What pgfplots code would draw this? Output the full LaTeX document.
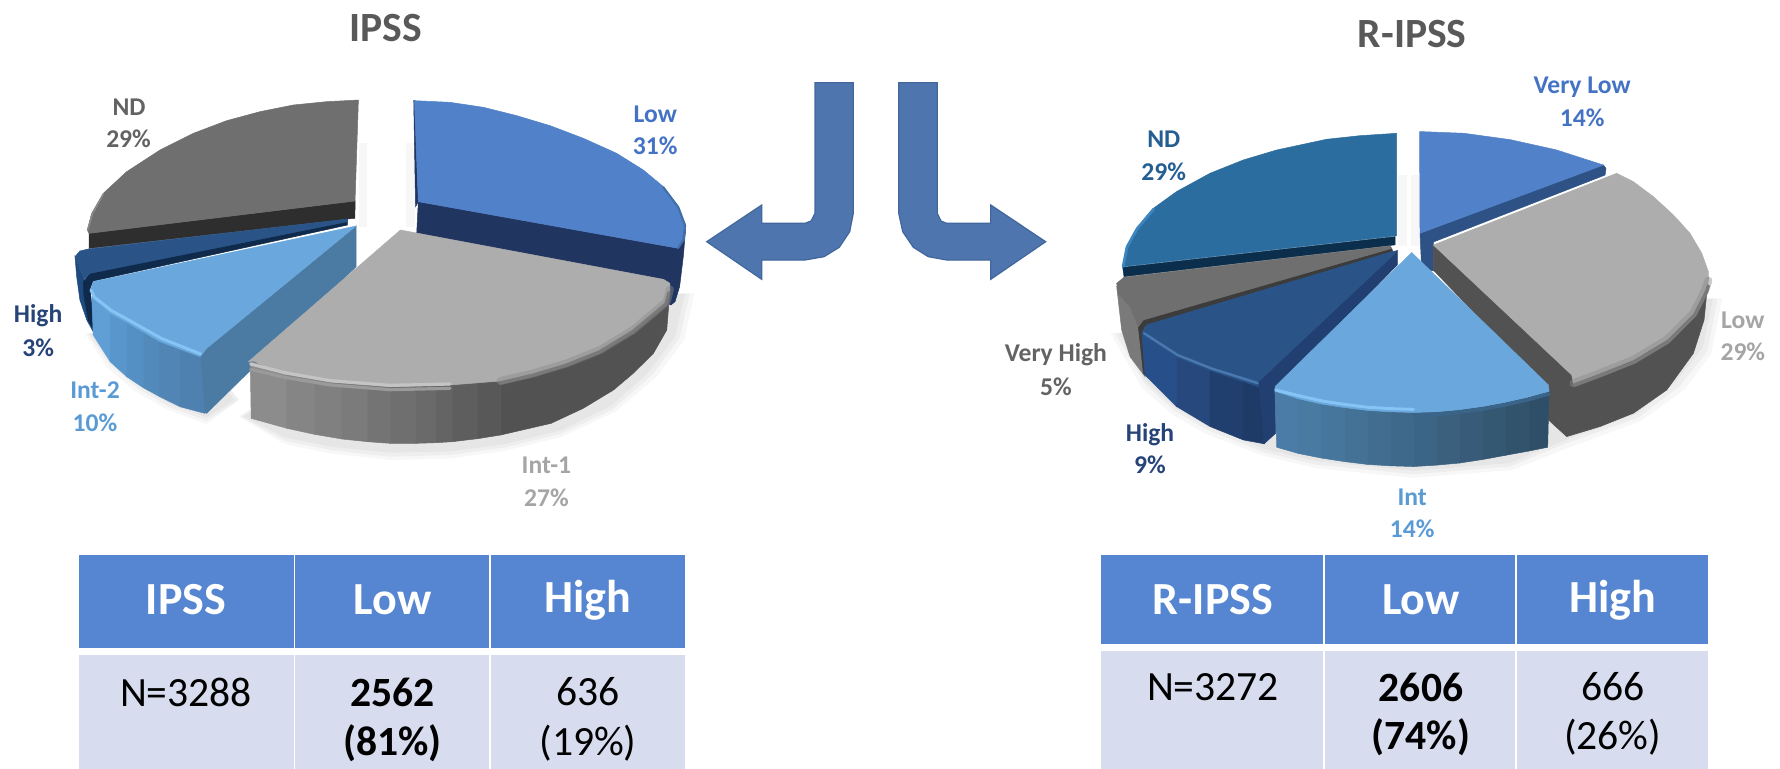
\documentclass[border=0pt]{standalone}
\usepackage{pgfplots}
\pgfplotsset{compat=1.18}
\usepackage{fontspec}
\setmainfont{Carlito}

% series colours
\definecolor{cLow}{HTML}{5181C8}
\definecolor{cLowCut}{HTML}{20355F}
\definecolor{cGrey}{HTML}{ADADAD}
\definecolor{cWall}{HTML}{525252}
\definecolor{cSky}{HTML}{6AA7DC}
\definecolor{cSkyCut}{HTML}{4B7BA3}
\definecolor{cNavy}{HTML}{2A5487}
\definecolor{cND}{HTML}{6F6F6F}
\definecolor{cTeal}{HTML}{2B6D9E}
\definecolor{cArrow}{HTML}{4E75AE}
\definecolor{cArrowEdge}{HTML}{41679C}
\definecolor{cHead}{HTML}{5686D1}
\definecolor{cBody}{HTML}{D7DCEE}
% label colours
\definecolor{tBlue}{HTML}{4472C4}
\definecolor{tGrey}{HTML}{A5A5A5}
\definecolor{tSky}{HTML}{5B9BD5}
\definecolor{tNavy}{HTML}{264478}
\definecolor{tDark}{HTML}{636363}
\definecolor{tTeal}{HTML}{255E91}
\definecolor{tTitle}{HTML}{595959}
% wall bands and edges, each named by its own hex value
\newcommand{\hx}[1]{\definecolor{#1}{HTML}{#1}}
\hx{2E2E2E}\hx{1F4A80}\hx{0F2A4A}\hx{5F9FD6}\hx{5996CB}\hx{5590C4}\hx{528ABC}\hx{5085B6}
\hx{4E80B0}\hx{4C7CA9}\hx{75BBF2}\hx{C4C4C4}\hx{8A8A8A}\hx{8C8C8C}\hx{858585}\hx{808080}
\hx{7B7B7B}\hx{747474}\hx{6F6F6F}\hx{6A6A6A}\hx{646464}\hx{5E5E5E}\hx{585858}\hx{2F5286}
\hx{0A2E4C}\hx{3B86C0}\hx{7A7A7A}\hx{3C3C3C}\hx{27508A}\hx{27487C}\hx{213F6E}\hx{1E3A66}
\hx{213F70}\hx{4A78B0}\hx{4B7CA7}\hx{487AA2}\hx{46769C}\hx{447296}\hx{416D90}\hx{3F698A}
\hx{3C6484}\hx{3A607E}\hx{375B78}\hx{345772}\hx{32536C}\hx{2F4F68}\hx{85C4F5}\hx{3A6488}
\hx{3F6EA8}\hx{9A9A9A}

% a filled polygon: colour, coordinates
\newcommand{\poly}[2]{\addplot[fill=#1,draw=#1,line width=0.25pt,forget plot] coordinates {#2} -- cycle;}
% a soft layer of cast shadow
\newcommand{\castshadow}[2]{\addplot[fill=black,draw=none,fill opacity=#1,forget plot] coordinates {#2} -- cycle;}
% a rim stroke: colour, width, opacity, coordinates
\newcommand{\rimline}[4]{\addplot[draw=#1,line width=#2,draw opacity=#3,line join=round,line cap=round,forget plot] coordinates {#4};}
% one line of a slice label: colour, x, y, text
\newcommand{\lab}[4]{%
  \node[text=#1,font=\fontsize{12.8}{14}\selectfont\bfseries] at (axis cs:#2,#3) {#4};}

\pgfplotsset{canvas/.style={hide axis,scale only axis,clip=false,y dir=reverse,
  anchor=south west,xmin=0,ymin=0}}

\begin{document}
\begin{tikzpicture}[x=1pt,y=1pt]
\useasboundingbox (0,0) rectangle (890,384);

%% ---------- left pie ----------
\begin{axis}[canvas,at={(0pt,124pt)},width=360pt,height=260pt,xmax=1568,ymax=1560]
% cast shadow
\castshadow{0.03}{(520,1250)(620,1332)(720,1360)(850,1380)(980,1376)(1100,1352)(1220,1312)(1340,1235)(1430,1130)(1490,1020)(1512,880)(900,900)}
\castshadow{0.035}{(525,1250)(620,1322)(720,1350)(850,1370)(980,1365)(1100,1342)(1220,1302)(1335,1228)(1420,1125)(1480,1015)(1502,880)(900,900)}
\castshadow{0.035}{(530,1250)(620,1312)(720,1340)(850,1358)(980,1354)(1100,1332)(1220,1292)(1330,1218)(1410,1120)(1470,1010)(1492,880)(900,900)}
\castshadow{0.03}{(185,1000)(235,1105)(295,1175)(370,1232)(450,1272)(520,1200)(400,1000)}
\castshadow{0.035}{(190,1000)(240,1095)(300,1165)(370,1222)(450,1262)(520,1200)(400,1000)}
\castshadow{0.035}{(195,1000)(240,1085)(300,1155)(370,1212)(450,1252)(510,1200)(400,1000)}
\castshadow{0.03}{(782,430)(800,430)(800,680)(782,680)}
\castshadow{0.03}{(885,430)(903,430)(903,680)(885,680)}

% Low: cut face and top
\poly{cLowCut}{(911,605)(1477,745)(1493,690)(1488,770)(1480,860)(1470,905)(1461,915)(1440,900)(907.5,700)}
\poly{cLowCut}{(901,302)(903,302)(911,605)(905,620)}
\poly{cLow}{(902.4,302)(980,307)(1052.7,322)(1125.3,347)(1198,377)(1270.5,415)(1343,460)(1401,510)(1444.7,560)(1477.4,620)(1493.4,675)(1490,720)(1477.4,745)(911,605)}
\rimline{3F6EA8}{1pt}{1}{(1444.7,562)(1477.4,622)(1492,677)(1488,718)(1477.4,743)}

% ND: cut face and top
\poly{2E2E2E}{(193.9,700)(773.2,603)(773,655)(756.5,657)(193.9,745)}
\poly{cND}{(780.5,300)(711.5,305)(638.9,315)(566.3,335)(493.7,362)(421,400)(348.5,450)(275.9,515)(225,580)(199.7,640)(190.2,690)(193.9,700)(773.2,603)}
\rimline{8A8A8A}{0.8pt}{1}{(225,582)(201,642)(191,690)}

% High: wall, cut face and top
\poly{1F4A80}{(163.4,770)(167,830)(174,900)(189,960)(203,995)(196,865)(183,838)}
\poly{0F2A4A}{(181.5,845)(196,820)(756.5,657)(756.5,675)(203.3,843)(196,865)(205.5,995)(192.4,960)(183,890)}
\poly{cNavy}{(163.4,770)(174,753)(192.4,747)(756.5,657)(756.5,665)(196,820)(183,838)}

% Int-2: cut face, stepped wall and top
\poly{cSkyCut}{(450,1045)(775.4,678)(775.4,800)(450,1240)(435.6,1230)(435.6,1070)}
\poly{5F9FD6}{(200,890)(240,940)(240,1085)(203,1005)}
\poly{5996CB}{(240,940)(276,967)(276,1130)(240,1085)}
\poly{5590C4}{(276,967)(312,997)(312,1163)(276,1130)}
\poly{528ABC}{(312,997)(348,1025)(348,1190)(312,1163)}
\poly{5085B6}{(348,1025)(392,1048)(392,1220)(348,1190)}
\poly{4E80B0}{(392,1048)(436,1070)(446,1240)(392,1220)}
\poly{cSky}{(775.4,678)(203,845)(197.5,870)(203,895)(240,940)(276,967)(348.5,1025)(435.6,1070)(450,1045)}
\rimline{85C4F5}{1.5pt}{1}{(198,870)(206,892)(243,932)(279,959)(351,1015)(437,1062)}

% Int-1: stepped wall and top
\poly{cWall}{(1090,1140)(1161.6,1115)(1234,1085)(1307,1045)(1379,985)(1452,900)(1459,870)(1452,990)(1423,1060)(1379,1120)(1336,1170)(1270,1225)(1200,1270)(1090,1305)}
\poly{8C8C8C}{(545,1085)(625,1115)(625,1285)(547,1255)}
\poly{858585}{(625,1115)(685,1128)(685,1303)(625,1285)}
\poly{808080}{(685,1128)(745,1139)(745,1317)(685,1303)}
\poly{7B7B7B}{(745,1139)(800,1148)(800,1325)(745,1317)}
\poly{747474}{(800,1148)(850,1153)(850,1330)(800,1325)}
\poly{6F6F6F}{(850,1153)(905,1154)(905,1330)(850,1330)}
\poly{6A6A6A}{(905,1154)(950,1151)(950,1328)(905,1330)}
\poly{646464}{(950,1151)(985,1148)(985,1325)(950,1328)}
\poly{5E5E5E}{(985,1148)(1040,1143)(1040,1316)(985,1325)}
\poly{585858}{(1040,1143)(1090,1138)(1090,1305)(1040,1316)}
\poly{cGrey}{(872,690)(1444.8,838)(1459,850)(1459,870)(1452,905)(1379,990)(1307,1050)(1234,1090)(1161.6,1120)(1090,1143)(980,1155)(850,1160)(720,1146)(620,1122)(552,1083)(541,1085)}
\rimline{8A8A8A}{4pt}{0.45}{(1459,868)(1452,905)(1379,990)(1307,1050)(1234,1090)(1161.6,1120)(1090,1143)}
\rimline{7A7A7A}{1.6pt}{1}{(1457,878)(1450,912)(1377,996)(1305,1056)(1232,1096)(1160,1126)(1090,1149)}
\rimline{C4C4C4}{1.6pt}{1}{(546,1092)(620,1118)(720,1142)(850,1156)(980,1152)}
\rimline{9A9A9A}{1.6pt}{1}{(546,1108)(620,1132)(720,1155)(850,1169)(980,1165)}

\node[text=tTitle,font=\fontsize{20.8}{24}\selectfont\bfseries] at (axis cs:840,84) {IPSS};
\lab{tBlue}{1427}{342}{Low}
\lab{tBlue}{1427}{437}{31\%}
\lab{tGrey}{1190}{1397}{Int-1}
\lab{tGrey}{1190}{1493}{27\%}
\lab{tSky}{207}{1172}{Int-2}
\lab{tSky}{207}{1267}{10\%}
\lab{tNavy}{83}{948}{High}
\lab{tNavy}{83}{1043}{3\%}
\lab{tDark}{281}{322}{ND}
\lab{tDark}{280}{417}{29\%}
\end{axis}

%% ---------- right pie ----------
\begin{axis}[canvas,at={(530pt,109pt)},width=360pt,height=275pt,xmax=1568,ymax=1568]
% cast shadow
\castshadow{0.03}{(110,950)(178,1105)(245,1182)(315,1235)(445,1300)(560,1335)(770,1362)(985,1340)(1100,1280)(1265,1200)(1360,1110)(1418,1010)(1442,850)(800,900)}
\castshadow{0.035}{(120,950)(185,1095)(250,1172)(320,1225)(445,1290)(560,1325)(770,1352)(980,1330)(1090,1270)(1260,1190)(1350,1100)(1410,1000)(1432,850)(800,900)}
\castshadow{0.035}{(130,950)(185,1085)(250,1162)(320,1215)(445,1280)(560,1315)(770,1342)(980,1320)(1090,1260)(1255,1180)(1340,1090)(1400,990)(1422,850)(800,900)}
\castshadow{0.03}{(735,500)(755,500)(755,700)(735,700)}
\castshadow{0.03}{(765,500)(783,500)(783,700)(765,700)}

% Very Low: cut face and top
\poly{2F5286}{(784,665)(1183.4,470.5)(1189,480)(1187,499)(813,690)(813,772)(787.7,770)}
\poly{cLow}{(783,375)(880,380)(980,398)(1080,427)(1183.4,470.5)(784,665)}

% ND: cut face and top
\poly{0A2E4C}{(136.5,762)(729.6,674.6)(729.6,698)(139.4,788.6)}
\poly{cTeal}{(733.3,380)(653.4,386.8)(580.8,397)(471.9,427.6)(399.3,456)(326.7,494)(254,546)(203.3,594)(167,651)(145.2,703)(136.5,760)(733.3,672)}
\rimline{3B86C0}{1.4pt}{1}{(137.5,760)(146,704)(168,652)(204,596)}

% Very High: wall, separating line and top
\poly{7A7A7A}{(123.4,817)(134.3,940.6)(152.5,1016.6)(185.1,1073.6)(177.9,940.6)(170.6,931)(152.5,874)}
\poly{3C3C3C}{(170.6,931)(181.5,912)(722.4,708)(724.5,717)(185.1,931)(177.9,950)(188.8,1073.6)(181.5,1064)}
\poly{cND}{(123.4,807.6)(139.4,790.5)(718.7,701)(722.4,708)(181.5,912)(170.6,931)(152.5,874)(127,836)}

% High: cut face, stepped wall and top
\poly{213F70}{(734.7,714.5)(734.7,755)(468.3,1111.6)(469.7,1235)(444.3,1265.5)(432,1121)(432,1088)}
\poly{27508A}{(178,945)(254,1015)(254,1159)(185,1069)}
\poly{27487C}{(254,1015)(327,1053)(327,1216)(254,1159)}
\poly{213F6E}{(327,1053)(399,1085)(399,1254)(327,1216)}
\poly{1E3A66}{(399,1085)(432,1098)(444,1265)(399,1254)}
\poly{cNavy}{(734.7,714.5)(726,727)(432,1088)(432,1102)(326.7,1056)(254,1018)(181.5,956)(180,945)(188.8,926)(724.5,717)}
\rimline{4A78B0}{1.2pt}{1}{(183,950)(256,1012)(329,1050)(430,1092)}

% Low: wall and cut face, top
\poly{cWall}{(813,698.5)(813,770)(1062,1110)(1063.6,1197)(1103.5,1244.7)(1176,1216)(1248.7,1178)(1321.3,1111.7)(1379.4,1007)(1402.6,912)(1412,790)}
\poly{cGrey}{(813,698.5)(1212.4,494)(1248.7,518)(1292.3,560.7)(1335.8,613)(1372,665)(1397.5,722)(1412,774.5)(1412,800)(1405,826.7)(1379.4,893)(1321.3,969)(1248.7,1026)(1176,1064)(1118,1092.7)(1114.4,1069)}
\rimline{8A8A8A}{4pt}{0.45}{(1412,800)(1405,826.7)(1379.4,893)(1321.3,969)(1248.7,1026)(1176,1064)(1118,1092.7)}
\rimline{7A7A7A}{1.6pt}{1}{(1412,815)(1408,833)(1382,899)(1324,975)(1251,1032)(1178,1070)(1120,1098)}

% Int: stepped wall and top
\poly{4B7CA7}{(468,1115)(520,1137)(520,1293)(472,1275)}
\poly{487AA2}{(520,1137)(570,1152)(570,1306)(520,1293)}
\poly{46769C}{(570,1152)(620,1162)(620,1316)(570,1306)}
\poly{447296}{(620,1162)(670,1170)(670,1324)(620,1316)}
\poly{416D90}{(670,1170)(720,1174)(720,1328)(670,1324)}
\poly{3F698A}{(720,1174)(770,1176)(770,1330)(720,1328)}
\poly{3C6484}{(770,1176)(820,1174)(820,1326)(770,1330)}
\poly{3A607E}{(820,1174)(870,1168)(870,1320)(820,1326)}
\poly{375B78}{(870,1168)(920,1159)(920,1310)(870,1320)}
\poly{345772}{(920,1159)(970,1147)(970,1298)(920,1310)}
\poly{32536C}{(970,1147)(1020,1132)(1020,1286)(970,1298)}
\poly{2F4F68}{(1020,1132)(1065,1116)(1062,1275)(1020,1286)}
\poly{cSky}{(766,720)(1063.6,1097.5)(1065,1116)(1020,1132)(970,1147)(920,1159)(870,1168)(820,1174)(770,1176)(720,1174)(670,1170)(620,1162)(570,1152)(520,1137)(468,1115)(468.3,1102)}
\rimline{85C4F5}{1.5pt}{1}{(470,1112)(520,1128)(570,1143)(620,1153)(670,1161)(720,1165)(770,1167)}
\rimline{3A6488}{1.8pt}{1}{(770,1183)(820,1181)(870,1175)(920,1166)(970,1154)(1020,1139)(1064,1123)}

\node[text=tTitle,font=\fontsize{20.8}{24}\selectfont\bfseries] at (axis cs:767,96) {R-IPSS};
\lab{tBlue}{1137}{250}{Very Low}
\lab{tBlue}{1137}{335}{14\%}
\lab{tGrey}{1487}{913}{Low}
\lab{tGrey}{1487}{1003}{29\%}
\lab{tSky}{767}{1417}{Int}
\lab{tSky}{767}{1507}{14\%}
\lab{tNavy}{196}{1238}{High}
\lab{tNavy}{196}{1325}{9\%}
\lab{tDark}{-9}{1010}{Very High}
\lab{tDark}{-9}{1103}{5\%}
\lab{tTeal}{226}{398}{ND}
\lab{tTeal}{226}{490}{29\%}
\end{axis}

%% ---------- arrows and tables ----------
\begin{axis}[canvas,at={(0pt,0pt)},width=890pt,height=384pt,xmax=1780,ymax=768]
% arrows between the pies
\addplot[fill=cArrow,draw=cArrowEdge,line width=0.6pt,forget plot] coordinates {(706.7,241.7)(761.7,205)(761.7,223.3)(805,223.3)(811,221)(815,213.3)(815,82.7)(853.3,82.7)(853.3,213.3)(849.7,231.7)(839.3,247.3)(824,256.7)(805,260)(761.7,260)(761.7,279.3)} -- cycle;
\addplot[fill=cArrow,draw=cArrowEdge,line width=0.6pt,forget plot] coordinates {(1045.7,241.7)(990.7,205)(990.7,223.3)(946.7,223.3)(941,221)(937.3,213.3)(937.3,82.7)(898.7,82.7)(898.7,213.3)(902.7,231.7)(913.3,247.3)(928.3,256.7)(946.7,260)(990.7,260)(990.7,279.3)} -- cycle;

% left table
\poly{cHead}{(79,555)(293.6,555)(293.6,647.7)(79,647.7)}
\poly{cHead}{(295.7,555)(488.5,555)(488.5,647.7)(295.7,647.7)}
\poly{cHead}{(491,555)(684,555)(684,647.7)(491,647.7)}
\poly{cBody}{(79,655.7)(293.6,655.7)(293.6,768)(79,768)}
\poly{cBody}{(295.7,655.7)(488.5,655.7)(488.5,768)(295.7,768)}
\poly{cBody}{(491,655.7)(684,655.7)(684,768)(491,768)}
% right table
\poly{cHead}{(1101.4,555)(1322.7,555)(1322.7,643)(1101.4,643)}
\poly{cHead}{(1325,555)(1514.7,555)(1514.7,643)(1325,643)}
\poly{cHead}{(1517,555)(1707,555)(1707,643)(1517,643)}
\poly{cBody}{(1101.4,651)(1322.7,651)(1322.7,768)(1101.4,768)}
\poly{cBody}{(1325,651)(1514.7,651)(1514.7,768)(1325,768)}
\poly{cBody}{(1517,651)(1707,651)(1707,768)(1517,768)}

\tikzset{hd/.style={text=white,font=\fontsize{23}{26}\selectfont\bfseries},
         bd/.style={text=black,font=\fontsize{20.8}{24}\selectfont},
         bb/.style={text=black,font=\fontsize{20.8}{24}\selectfont\bfseries}}
\node[hd] at (axis cs:186,600) {IPSS};
\node[hd] at (axis cs:392.5,600) {Low};
\node[hd] at (axis cs:588,600) {High};
\node[bd] at (axis cs:186,692) {N=3288};
\node[bb] at (axis cs:392.5,692) {2562};
\node[bb] at (axis cs:392.5,743) {(81\%)};
\node[bd] at (axis cs:588,692) {636};
\node[bd] at (axis cs:588,743) {(19\%)};

\node[hd] at (axis cs:1213,600) {R-IPSS};
\node[hd] at (axis cs:1421,600) {Low};
\node[hd] at (axis cs:1612.7,600) {High};
\node[bd] at (axis cs:1213,687) {N=3272};
\node[bb] at (axis cs:1421,687) {2606};
\node[bb] at (axis cs:1421,737) {(74\%)};
\node[bd] at (axis cs:1612.7,687) {666};
\node[bd] at (axis cs:1612.7,737) {(26\%)};
\end{axis}
\end{tikzpicture}
\end{document}
